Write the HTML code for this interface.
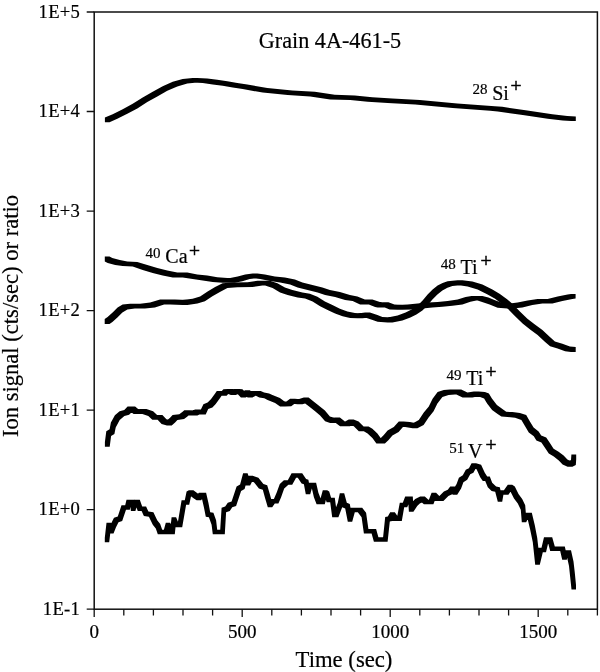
<!DOCTYPE html>
<html lang="en">
<head>
<meta charset="utf-8">
<title>Grain 4A-461-5</title>
<style>
html,body{margin:0;padding:0;background:#fff;}
body{width:600px;height:672px;overflow:hidden;}
svg{display:block;}
svg text{font-family:"Liberation Serif","Times New Roman",serif;fill:#000;stroke:#000;stroke-width:0.2px;}
</style>
</head>
<body>
<svg width="600" height="672" viewBox="0 0 600 672">
<rect width="600" height="672" fill="#fff"/>
<rect x="94.2" y="12.0" width="503.2" height="597.2" fill="none" stroke="#111" stroke-width="1.5"/>
<path d="M86.7,12.0 H94.2 M86.7,111.5 H94.2 M86.7,211.1 H94.2 M86.7,310.6 H94.2 M86.7,410.1 H94.2 M86.7,509.7 H94.2 M86.7,609.2 H94.2 M94.2,609.2 V617.0 M123.8,609.2 V615.5 M153.4,609.2 V615.5 M183.0,609.2 V615.5 M212.6,609.2 V615.5 M242.2,609.2 V617.0 M271.8,609.2 V615.5 M301.4,609.2 V615.5 M331.0,609.2 V615.5 M360.6,609.2 V615.5 M390.2,609.2 V617.0 M419.8,609.2 V615.5 M449.4,609.2 V615.5 M479.0,609.2 V615.5 M508.6,609.2 V615.5 M538.2,609.2 V617.0 M567.8,609.2 V615.5 M597.4,609.2 V615.5" fill="none" stroke="#111" stroke-width="1.3"/>
<text x="80.2" y="17.5" text-anchor="end" font-size="18.6" letter-spacing="0.3">1E+5</text>
<text x="80.2" y="117.0" text-anchor="end" font-size="18.6" letter-spacing="0.3">1E+4</text>
<text x="80.2" y="216.6" text-anchor="end" font-size="18.6" letter-spacing="0.3">1E+3</text>
<text x="80.2" y="316.1" text-anchor="end" font-size="18.6" letter-spacing="0.3">1E+2</text>
<text x="80.2" y="415.6" text-anchor="end" font-size="18.6" letter-spacing="0.3">1E+1</text>
<text x="80.2" y="515.2" text-anchor="end" font-size="18.6" letter-spacing="0.3">1E+0</text>
<text x="80.2" y="614.7" text-anchor="end" font-size="18.6" letter-spacing="0.3">1E-1</text>
<text x="94.2" y="637.9" text-anchor="middle" font-size="19">0</text>
<text x="242.2" y="637.9" text-anchor="middle" font-size="19">500</text>
<text x="390.2" y="637.9" text-anchor="middle" font-size="19">1000</text>
<text x="538.2" y="637.9" text-anchor="middle" font-size="19">1500</text>
<text x="344.0" y="666.6" text-anchor="middle" font-size="22.7">Time (sec)</text>
<text transform="translate(18.4,316.0) rotate(-90)" text-anchor="middle" font-size="22.6">Ion signal (cts/sec) or ratio</text>
<text x="258.8" y="48.3" font-size="22.2">Grain 4A-461-5</text>
<text x="472.6" y="94.1" font-size="15">28</text>
<text x="492.2" y="99.6" font-size="20">Si</text>
<text x="510.5" y="92.4" font-size="19.5" style="stroke-width:0.5px">+</text>
<text x="145.6" y="257.7" font-size="15">40</text>
<text x="165.3" y="263.2" font-size="20">Ca</text>
<text x="188.9" y="256.6" font-size="19.5" style="stroke-width:0.5px">+</text>
<text x="440.8" y="268.5" font-size="15">48</text>
<text x="460.6" y="274.0" font-size="20">Ti</text>
<text x="480.5" y="266.8" font-size="19.5" style="stroke-width:0.5px">+</text>
<text x="446.6" y="379.7" font-size="15">49</text>
<text x="466.2" y="385.2" font-size="20">Ti</text>
<text x="485.5" y="378.4" font-size="19.5" style="stroke-width:0.5px">+</text>
<text x="449.3" y="453.0" font-size="15">51</text>
<text x="468.0" y="457.7" font-size="20">V</text>
<text x="485.5" y="451.0" font-size="19.5" style="stroke-width:0.5px">+</text>
<path d="M104.9,117.6 112.7,114.2 117.3,114.2 117.3,118.8 109.5,122.2 104.9,122.2ZM112.7,114.2 122.7,109.2 127.3,109.2 127.3,113.8 117.3,118.8 112.7,118.8ZM122.7,109.2 132.7,103.8 137.3,103.8 137.3,108.4 127.3,113.8 122.7,113.8ZM132.7,103.8 142.7,97.5 147.3,97.5 147.3,102.1 137.3,108.4 132.7,108.4ZM142.7,97.5 152.7,91.8 157.3,91.8 157.3,96.4 147.3,102.1 142.7,102.1ZM152.7,91.8 162.7,86.2 167.3,86.2 167.3,90.8 157.3,96.4 152.7,96.4ZM162.7,86.2 172.7,81.8 177.3,81.8 177.3,86.4 167.3,90.8 162.7,90.8ZM172.7,81.8 182.7,79 187.3,79 187.3,83.6 177.3,86.4 172.7,86.4ZM182.7,79 192.7,78 197.3,78 197.3,82.6 187.3,83.6 182.7,83.6ZM192.7,78 197.3,78 207.3,78.5 207.3,83.1 202.7,83.1 192.7,82.6ZM202.7,78.5 207.3,78.5 217.3,79.8 217.3,84.4 212.7,84.4 202.7,83.1ZM212.7,79.8 217.3,79.8 227.3,81.2 227.3,85.8 222.7,85.8 212.7,84.4ZM222.7,81.2 227.3,81.2 237.3,83 237.3,87.6 232.7,87.6 222.7,85.8ZM232.7,83 237.3,83 247.3,84.5 247.3,89.1 242.7,89.1 232.7,87.6ZM242.7,84.5 247.3,84.5 267.3,88 267.3,92.6 262.7,92.6 242.7,89.1ZM262.7,88 267.3,88 292.3,90.5 292.3,95.1 287.7,95.1 262.7,92.6ZM287.7,90.5 292.3,90.5 314.8,91.8 314.8,96.4 310.2,96.4 287.7,95.1ZM310.2,91.8 314.8,91.8 334.8,94.8 334.8,99.4 330.2,99.4 310.2,96.4ZM330.2,94.8 334.8,94.8 354.8,95.5 354.8,100.1 350.2,100.1 330.2,99.4ZM350.2,95.5 354.8,95.5 372.3,97.2 372.3,101.8 367.7,101.8 350.2,100.1ZM367.7,97.2 372.3,97.2 392.3,98.5 392.3,103.1 387.7,103.1 367.7,101.8ZM387.7,98.5 392.3,98.5 419.8,100 419.8,104.6 415.2,104.6 387.7,103.1ZM415.2,100 419.8,100 457.3,103.5 457.3,108.1 452.7,108.1 415.2,104.6ZM452.7,103.5 457.3,103.5 494.8,106.2 494.8,110.8 490.2,110.8 452.7,108.1ZM490.2,106.2 494.8,106.2 502.3,106.8 502.3,111.4 497.7,111.4 490.2,110.8ZM497.7,106.8 502.3,106.8 527.3,110.5 527.3,115.1 522.7,115.1 497.7,111.4ZM522.7,110.5 527.3,110.5 552.3,114.2 552.3,118.8 547.7,118.8 522.7,115.1ZM547.7,114.2 552.3,114.2 567.3,116 567.3,120.6 562.7,120.6 547.7,118.8ZM562.7,116 567.3,116 575.8,116.4 575.8,121 571.2,121 562.7,120.6Z" fill="#000" fill-rule="nonzero"/>
<path d="M104.8,256.6 109.5,256.6 112.3,258.1 112.3,262.9 107.7,262.9 104.8,261.4ZM107.7,258.1 112.3,258.1 119.8,260.1 119.8,264.9 115.2,264.9 107.7,262.9ZM115.2,260.1 119.8,260.1 127.3,261.4 127.3,266.1 122.7,266.1 115.2,264.9ZM122.7,261.4 127.3,261.4 137.3,261.9 137.3,266.6 132.7,266.6 122.7,266.1ZM132.7,261.9 137.3,261.9 147.3,265.1 147.3,269.9 142.7,269.9 132.7,266.6ZM142.7,265.1 147.3,265.1 157.3,268.1 157.3,272.9 152.7,272.9 142.7,269.9ZM152.7,268.1 157.3,268.1 167.3,270.6 167.3,275.4 162.7,275.4 152.7,272.9ZM162.7,270.6 167.3,270.6 177.3,272.6 177.3,277.4 172.7,277.4 162.7,275.4ZM172.7,272.6 187.3,272.6 187.3,277.4 172.7,277.4ZM182.7,272.6 187.3,272.6 197.3,274.4 197.3,279.1 192.7,279.1 182.7,277.4ZM192.7,274.4 197.3,274.4 207.3,275.6 207.3,280.4 202.7,280.4 192.7,279.1ZM202.7,275.6 207.3,275.6 217.3,277.2 217.3,281.9 212.7,281.9 202.7,280.4ZM212.7,277.2 217.3,277.2 227.3,278.1 227.3,282.8 222.7,282.8 212.7,281.9ZM222.7,278.1 234.8,278.1 234.8,282.8 222.7,282.8ZM230.2,278.1 237.7,276.6 242.3,276.6 242.3,281.2 234.8,282.8 230.2,282.8ZM237.7,276.6 245.2,274.4 249.8,274.4 249.8,279.1 242.3,281.2 237.7,281.2ZM245.2,274.4 252.7,273.4 257.4,273.4 257.4,278.1 249.8,279.1 245.2,279.1ZM252.7,273.4 257.4,273.4 264.9,274.4 264.9,279.1 260.1,279.1 252.7,278.1ZM260.1,274.4 264.9,274.4 274.9,276.4 274.9,281.1 270.1,281.1 260.1,279.1ZM270.1,276.4 274.9,276.4 284.9,277.6 284.9,282.4 280.1,282.4 270.1,281.1ZM280.1,277.6 284.9,277.6 294.9,279.6 294.9,284.4 290.1,284.4 280.1,282.4ZM290.1,279.6 294.9,279.6 302.4,282.6 302.4,287.4 297.6,287.4 290.1,284.4ZM297.6,282.6 302.4,282.6 312.4,285.1 312.4,289.9 307.6,289.9 297.6,287.4ZM307.6,285.1 312.4,285.1 322.4,287.6 322.4,292.4 317.6,292.4 307.6,289.9ZM317.6,287.6 322.4,287.6 329.9,290.1 329.9,294.9 325.1,294.9 317.6,292.4ZM325.1,290.1 329.9,290.1 339.9,292.1 339.9,296.9 335.1,296.9 325.1,294.9ZM335.1,292.1 339.9,292.1 349.9,295.1 349.9,299.9 345.1,299.9 335.1,296.9ZM345.1,295.1 349.9,295.1 357.4,296.4 357.4,301.1 352.6,301.1 345.1,299.9ZM352.6,296.4 357.4,296.4 364.9,299.6 364.9,304.4 360.1,304.4 352.6,301.1ZM360.1,299.6 367.6,299.4 372.4,299.4 372.4,304.1 364.9,304.4 360.1,304.4ZM367.6,299.4 372.4,299.4 379.9,302.1 379.9,306.9 375.1,306.9 367.6,304.1ZM375.1,302.1 379.9,302.1 382.4,302.6 382.4,307.4 377.6,307.4 375.1,306.9ZM377.6,302.6 383.6,302.2 388.4,302.2 388.4,306.9 382.4,307.4 377.6,307.4ZM383.6,302.2 388.4,302.2 394.4,304.6 394.4,309.4 389.6,309.4 383.6,306.9ZM389.6,304.6 394.4,304.6 402.4,305.1 402.4,309.8 397.6,309.8 389.6,309.4ZM397.6,305.1 407.6,304.6 412.4,304.6 412.4,309.4 402.4,309.8 397.6,309.8ZM407.6,304.6 417.6,303.6 422.4,303.6 422.4,308.4 412.4,309.4 407.6,309.4ZM417.6,303.6 427.6,302.6 432.4,302.6 432.4,307.4 422.4,308.4 417.6,308.4ZM427.6,302.6 437.6,302.1 442.4,302.1 442.4,306.8 432.4,307.4 427.6,307.4ZM437.6,302.1 447.6,301.1 452.4,301.1 452.4,305.8 442.4,306.8 437.6,306.8ZM447.6,301.1 457.6,299.6 462.4,299.6 462.4,304.4 452.4,305.8 447.6,305.8ZM457.6,299.6 465.6,297.1 470.4,297.1 470.4,301.8 462.4,304.4 457.6,304.4ZM465.6,297.1 471.6,295.9 476.4,295.9 476.4,300.6 470.4,301.8 465.6,301.8ZM471.6,295.9 482.4,295.9 482.4,300.6 471.6,300.6ZM477.6,295.9 482.4,295.9 488.4,297.6 488.4,302.4 483.6,302.4 477.6,300.6ZM483.6,297.6 488.4,297.6 494.4,299.9 494.4,304.6 489.6,304.6 483.6,302.4ZM489.6,299.9 494.4,299.9 502.4,303.1 502.4,307.8 497.6,307.8 489.6,304.6ZM497.6,303.1 502.4,303.1 512.4,303.9 512.4,308.6 507.6,308.6 497.6,307.8ZM507.6,303.9 517.6,302.6 522.4,302.6 522.4,307.4 512.4,308.6 507.6,308.6ZM517.6,302.6 527.6,300.4 532.4,300.4 532.4,305.1 522.4,307.4 517.6,307.4ZM527.6,300.4 537.6,298.9 542.4,298.9 542.4,303.6 532.4,305.1 527.6,305.1ZM537.6,298.9 552.4,298.9 552.4,303.6 537.6,303.6ZM547.6,298.9 557.6,296.4 562.4,296.4 562.4,301.1 552.4,303.6 547.6,303.6ZM557.6,296.4 567.6,294.4 572.4,294.4 572.4,299.1 562.4,301.1 557.6,301.1ZM567.6,294.4 571,293.9 575.6,293.9 575.6,298.6 572.4,299.1 567.6,299.1Z" fill="#000" fill-rule="nonzero"/>
<path d="M104.7,319.1 107.6,317.1 112.4,317.1 112.4,321.9 109.5,323.9 104.7,323.9ZM107.6,317.1 112.6,312.6 117.4,312.6 117.4,317.4 112.4,321.9 107.6,321.9ZM112.6,312.6 117.6,307.6 122.4,307.6 122.4,312.4 117.4,317.4 112.6,317.4ZM117.6,307.6 122.6,304.6 127.4,304.6 127.4,309.4 122.4,312.4 117.6,312.4ZM122.6,304.6 130.1,303.8 134.9,303.8 134.9,308.6 127.4,309.4 122.6,309.4ZM130.1,303.8 144.9,303.8 144.9,308.6 130.1,308.6ZM140.1,303.8 150.1,302.6 154.9,302.6 154.9,307.4 144.9,308.6 140.1,308.6ZM150.1,302.6 160.1,299.4 164.9,299.4 164.9,304.2 154.9,307.4 150.1,307.4ZM160.1,299.4 164.9,299.4 174.9,299.6 174.9,304.4 170.1,304.4 160.1,304.2ZM170.1,299.6 174.9,299.6 187.4,300.1 187.4,304.9 182.6,304.9 170.1,304.4ZM182.6,300.1 192.6,298.8 197.4,298.8 197.4,303.6 187.4,304.9 182.6,304.9ZM192.6,298.8 200.1,296.4 204.9,296.4 204.9,301.2 197.4,303.6 192.6,303.6ZM200.1,296.4 207.6,291.4 212.4,291.4 212.4,296.2 204.9,301.2 200.1,301.2ZM207.6,291.4 215.1,287.1 219.9,287.1 219.9,291.9 212.4,296.2 207.6,296.2ZM215.1,287.1 222.6,283.2 227.4,283.2 227.4,288 219.9,291.9 215.1,291.9ZM222.6,283.2 232.6,282.5 237.4,282.5 237.4,287.3 227.4,288 222.6,288ZM232.6,282.5 247.6,282.3 252.4,282.3 252.4,287.1 237.4,287.3 232.6,287.3ZM247.6,282.3 257.6,280.8 262.4,280.8 262.4,285.6 252.4,287.1 247.6,287.1ZM257.6,280.8 269.9,280.8 269.9,285.6 257.6,285.6ZM265.1,280.8 269.9,280.8 277.4,283.2 277.4,288 272.6,288 265.1,285.6ZM272.6,283.2 277.4,283.2 284.9,287.6 284.9,292.4 280.1,292.4 272.6,288ZM280.1,287.6 284.9,287.6 292.4,290.1 292.4,294.9 287.6,294.9 280.1,292.4ZM287.6,290.1 292.4,290.1 302.4,292.6 302.4,297.4 297.6,297.4 287.6,294.9ZM297.6,292.6 302.4,292.6 309.9,293.8 309.9,298.6 305.1,298.6 297.6,297.4ZM305.1,293.8 309.9,293.8 317.4,296.8 317.4,301.6 312.6,301.6 305.1,298.6ZM312.6,296.8 317.4,296.8 324.9,301.4 324.9,306.2 320.1,306.2 312.6,301.6ZM320.1,301.4 324.9,301.4 332.4,305.1 332.4,309.9 327.6,309.9 320.1,306.2ZM327.6,305.1 332.4,305.1 339.9,308.8 339.9,313.6 335.1,313.6 327.6,309.9ZM335.1,308.8 339.9,308.8 347.4,311.4 347.4,316.2 342.6,316.2 335.1,313.6ZM342.6,311.4 347.4,311.4 354.9,313.1 354.9,317.9 350.1,317.9 342.6,316.2ZM350.1,313.1 354.9,313.1 362.4,313.4 362.4,318.2 357.6,318.2 350.1,317.9ZM357.6,313.4 365.1,312.6 369.9,312.6 369.9,317.4 362.4,318.2 357.6,318.2ZM365.1,312.6 369.9,312.6 377.4,315.1 377.4,319.9 372.6,319.9 365.1,317.4ZM372.6,315.1 377.4,315.1 382.4,317 382.4,321.8 377.6,321.8 372.6,319.9ZM377.6,317 382.4,317 392.4,317.6 392.4,322.4 387.6,322.4 377.6,321.8ZM387.6,317.6 397.6,315.6 402.4,315.6 402.4,320.4 392.4,322.4 387.6,322.4ZM397.6,315.6 405.6,312.6 410.4,312.6 410.4,317.4 402.4,320.4 397.6,320.4ZM405.6,312.6 411.6,309.6 416.4,309.6 416.4,314.4 410.4,317.4 405.6,317.4ZM411.6,309.6 417.6,305.6 422.4,305.6 422.4,310.4 416.4,314.4 411.6,314.4ZM417.6,305.6 422.6,300.6 427.4,300.6 427.4,305.4 422.4,310.4 417.6,310.4ZM422.6,300.6 427.6,294.6 432.4,294.6 432.4,299.4 427.4,305.4 422.6,305.4ZM427.6,294.6 432.6,289.6 437.4,289.6 437.4,294.4 432.4,299.4 427.6,299.4ZM432.6,289.6 437.6,285.6 442.4,285.6 442.4,290.4 437.4,294.4 432.6,294.4ZM437.6,285.6 442.6,283 447.4,283 447.4,287.8 442.4,290.4 437.6,290.4ZM442.6,283 447.6,281.2 452.4,281.2 452.4,286 447.4,287.8 442.6,287.8ZM447.6,281.2 457.6,280.2 462.4,280.2 462.4,285 452.4,286 447.6,286ZM457.6,280.2 462.4,280.2 472.4,281.6 472.4,286.4 467.6,286.4 457.6,285ZM467.6,281.6 472.4,281.6 482.4,284.6 482.4,289.4 477.6,289.4 467.6,286.4ZM477.6,284.6 482.4,284.6 492.4,289.6 492.4,294.4 487.6,294.4 477.6,289.4ZM487.6,289.6 492.4,289.6 499.9,293.9 499.9,298.7 495.1,298.7 487.6,294.4ZM495.1,293.9 499.9,293.9 507.4,299.6 507.4,304.4 502.6,304.4 495.1,298.7ZM502.6,299.6 507.4,299.6 512.4,303.8 512.4,308.6 507.6,308.6 502.6,304.4ZM507.6,303.8 512.4,303.8 519.9,311.4 519.9,316.2 515.1,316.2 507.6,308.6ZM515.1,311.4 519.9,311.4 527.4,318.8 527.4,323.6 522.6,323.6 515.1,316.2ZM522.6,318.8 527.4,318.8 534.9,324.6 534.9,329.4 530.1,329.4 522.6,323.6ZM530.1,324.6 534.9,324.6 542.4,330.1 542.4,334.9 537.6,334.9 530.1,329.4ZM537.6,330.1 542.4,330.1 549.9,337.1 549.9,341.9 545.1,341.9 537.6,334.9ZM545.1,337.1 549.9,337.1 554.9,341.4 554.9,346.2 550.1,346.2 545.1,341.9ZM550.1,341.4 554.9,341.4 562.4,343.8 562.4,348.6 557.6,348.6 550.1,346.2ZM557.6,343.8 562.4,343.8 569.9,346.4 569.9,351.2 565.1,351.2 557.6,348.6ZM565.1,346.4 569.9,346.4 575.7,347.1 575.7,351.9 570.9,351.9 565.1,351.2Z" fill="#000" fill-rule="nonzero"/>
<path d="M104.9,441.9 106.3,431.3 111.1,431.3 111.1,436.1 109.7,446.7 104.9,446.7ZM106.3,431.3 109.6,429.3 114.4,429.3 114.4,434.1 111.1,436.1 106.3,436.1ZM109.6,429.3 110.9,422.6 115.7,422.6 115.7,427.4 114.4,434.1 109.6,434.1ZM110.9,422.6 114.9,415.3 119.7,415.3 119.7,420.1 115.7,427.4 110.9,427.4ZM114.9,415.3 119.6,411.3 124.4,411.3 124.4,416.1 119.7,420.1 114.9,420.1ZM119.6,411.3 124.3,409.9 129.1,409.9 129.1,414.7 124.4,416.1 119.6,416.1ZM124.3,409.9 127.6,406.6 132.4,406.6 132.4,411.4 129.1,414.7 124.3,414.7ZM127.6,406.6 135.1,406.6 135.1,411.4 127.6,411.4ZM130.3,406.6 135.1,406.6 138.4,409.3 138.4,414.1 133.6,414.1 130.3,411.4ZM133.6,409.3 141.6,408.9 146.4,408.9 146.4,413.7 138.4,414.1 133.6,414.1ZM141.6,408.9 146.4,408.9 153.1,411.3 153.1,416.1 148.3,416.1 141.6,413.7ZM148.3,411.3 153.1,411.3 157.1,415 157.1,419.8 152.3,419.8 148.3,416.1ZM152.3,415 162.4,415 162.4,419.8 152.3,419.8ZM157.6,415 162.4,415 166.4,419.3 166.4,424.1 161.6,424.1 157.6,419.8ZM161.6,419.3 166.4,419.3 171.7,420.6 171.7,425.4 166.9,425.4 161.6,424.1ZM166.9,420.6 170.3,417.6 175.1,417.6 175.1,422.4 171.7,425.4 166.9,425.4ZM170.3,417.6 172.6,415.1 177.4,415.1 177.4,419.9 175.1,422.4 170.3,422.4ZM172.6,415.1 179.3,414.3 184.1,414.3 184.1,419.1 177.4,419.9 172.6,419.9ZM179.3,414.3 182.6,411.8 187.4,411.8 187.4,416.6 184.1,419.1 179.3,419.1ZM182.6,411.8 184.3,410.2 189.1,410.2 189.1,415 187.4,416.6 182.6,416.6ZM184.3,410.2 189.1,410.2 197.4,410.6 197.4,415.4 192.6,415.4 184.3,415ZM192.6,410.6 195.1,409.4 199.9,409.4 199.9,414.2 197.4,415.4 192.6,415.4ZM195.1,409.4 199.9,409.4 205.7,409.6 205.7,414.4 200.9,414.4 195.1,414.2ZM200.9,409.6 203.4,404.3 208.2,404.3 208.2,409.1 205.7,414.4 200.9,414.4ZM203.4,404.3 207.6,402.6 212.4,402.6 212.4,407.4 208.2,409.1 203.4,409.1ZM207.6,402.6 210.9,399.3 215.7,399.3 215.7,404.1 212.4,407.4 207.6,407.4ZM210.9,399.3 215.1,393.4 219.9,393.4 219.9,398.2 215.7,404.1 210.9,404.1ZM215.1,393.4 216.8,391 221.6,391 221.6,395.8 219.9,398.2 215.1,398.2ZM216.8,391 226.6,391 226.6,395.8 216.8,395.8ZM221.8,391 223.4,389.3 228.2,389.3 228.2,394.1 226.6,395.8 221.8,395.8ZM223.4,389.3 227.6,388.9 232.4,388.9 232.4,393.7 228.2,394.1 223.4,394.1ZM227.6,388.9 232.4,388.9 235.7,390.1 235.7,394.9 230.9,394.9 227.6,393.7ZM230.9,390.1 234.3,388.9 239.1,388.9 239.1,393.7 235.7,394.9 230.9,394.9ZM234.3,388.9 239.1,388.9 242.4,389.3 242.4,394.1 237.6,394.1 234.3,393.7ZM237.6,389.3 242.4,389.3 245.7,392.6 245.7,397.4 240.9,397.4 237.6,394.1ZM240.9,392.6 245.1,390.2 249.9,390.2 249.9,395 245.7,397.4 240.9,397.4ZM245.1,390.2 249.9,390.2 252.4,392.6 252.4,397.4 247.6,397.4 245.1,395ZM247.6,392.6 250.9,390.9 255.7,390.9 255.7,395.7 252.4,397.4 247.6,397.4ZM250.9,390.9 260.7,390.9 260.7,395.7 250.9,395.7ZM255.9,390.9 260.7,390.9 264.1,392.6 264.1,397.4 259.3,397.4 255.9,395.7ZM259.3,392.6 264.1,392.6 269.1,393.4 269.1,398.2 264.3,398.2 259.3,397.4ZM264.3,393.4 269.1,393.4 272.4,395.1 272.4,399.9 267.6,399.9 264.3,398.2ZM267.6,395.1 272.4,395.1 279.9,398.1 279.9,402.9 275.1,402.9 267.6,399.9ZM275.1,398.1 279.9,398.1 284.9,401.8 284.9,406.6 280.1,406.6 275.1,402.9ZM280.1,401.8 286.4,401.4 291.2,401.4 291.2,406.2 284.9,406.6 280.1,406.6ZM286.4,401.4 290.1,398.8 294.9,398.8 294.9,403.6 291.2,406.2 286.4,406.2ZM290.1,398.8 294.9,398.8 302.4,399.4 302.4,404.2 297.6,404.2 290.1,403.6ZM297.6,399.4 303.8,397.6 308.6,397.6 308.6,402.4 302.4,404.2 297.6,404.2ZM303.8,397.6 308.6,397.6 313.6,401.4 313.6,406.2 308.8,406.2 303.8,402.4ZM308.8,401.4 313.6,401.4 319.9,406.4 319.9,411.2 315.1,411.2 308.8,406.2ZM315.1,406.4 319.9,406.4 324.9,410.6 324.9,415.4 320.1,415.4 315.1,411.2ZM320.1,410.6 324.9,410.6 329.9,416.4 329.9,421.2 325.1,421.2 320.1,415.4ZM325.1,416.4 329.9,416.4 334.9,418.1 334.9,422.9 330.1,422.9 325.1,421.2ZM330.1,418.1 335.1,417.6 339.9,417.6 339.9,422.4 334.9,422.9 330.1,422.9ZM335.1,417.6 339.9,417.6 344.9,421.4 344.9,426.2 340.1,426.2 335.1,422.4ZM340.1,421.4 349.9,421.4 349.9,426.2 340.1,426.2ZM345.1,421.4 348.8,419.4 353.6,419.4 353.6,424.2 349.9,426.2 345.1,426.2ZM348.8,419.4 353.6,419.4 358.6,421.4 358.6,426.2 353.8,426.2 348.8,424.2ZM353.8,421.4 358.6,421.4 363.6,426.4 363.6,431.2 358.8,431.2 353.8,426.2ZM358.8,426.4 368.6,426.4 368.6,431.2 358.8,431.2ZM363.8,426.4 368.6,426.4 372.4,428.8 372.4,433.6 367.6,433.6 363.8,431.2ZM367.6,428.8 372.4,428.8 377.4,433.4 377.4,438.2 372.6,438.2 367.6,433.6ZM372.6,433.4 377.4,433.4 381.2,438.8 381.2,443.6 376.4,443.6 372.6,438.2ZM376.4,438.8 384.9,438.8 384.9,443.6 376.4,443.6ZM380.1,438.8 383.8,435.1 388.6,435.1 388.6,439.9 384.9,443.6 380.1,443.6ZM383.8,435.1 387.6,430.6 392.4,430.6 392.4,435.4 388.6,439.9 383.8,439.9ZM387.6,430.6 393.8,427.1 398.6,427.1 398.6,431.9 392.4,435.4 387.6,435.4ZM393.8,427.1 398.8,421.4 403.6,421.4 403.6,426.2 398.6,431.9 393.8,431.9ZM398.8,421.4 403.6,421.4 409.9,422.1 409.9,426.9 405.1,426.9 398.8,426.2ZM405.1,422.1 409.9,422.1 417.4,423.4 417.4,428.2 412.6,428.2 405.1,426.9ZM412.6,423.4 418.8,420.1 423.6,420.1 423.6,424.9 417.4,428.2 412.6,428.2ZM418.8,420.1 423.8,412.6 428.6,412.6 428.6,417.4 423.6,424.9 418.8,424.9ZM423.8,412.6 428.8,406.4 433.6,406.4 433.6,411.2 428.6,417.4 423.8,417.4ZM428.8,406.4 432.6,398.8 437.4,398.8 437.4,403.6 433.6,411.2 428.8,411.2ZM432.6,398.8 437.6,392.1 442.4,392.1 442.4,396.9 437.4,403.6 432.6,403.6ZM437.6,392.1 443.8,390.1 448.6,390.1 448.6,394.9 442.4,396.9 437.6,396.9ZM443.8,390.1 450.1,389.6 454.9,389.6 454.9,394.4 448.6,394.9 443.8,394.9ZM450.1,389.6 461.2,389.6 461.2,394.4 450.1,394.4ZM456.4,389.6 461.2,389.6 467.4,392.6 467.4,397.4 462.6,397.4 456.4,394.4ZM462.6,392.6 472.4,392.6 472.4,397.4 462.6,397.4ZM467.6,392.6 473.8,391.4 478.6,391.4 478.6,396.2 472.4,397.4 467.6,397.4ZM473.8,391.4 478.6,391.4 484.9,392.1 484.9,396.9 480.1,396.9 473.8,396.2ZM480.1,392.1 484.9,392.1 488.9,393.6 488.9,398.4 484.1,398.4 480.1,396.9ZM484.1,393.6 488.9,393.6 491.9,398.6 491.9,403.4 487.1,403.4 484.1,398.4ZM487.1,398.6 491.9,398.6 496.9,405.1 496.9,409.9 492.1,409.9 487.1,403.4ZM492.1,405.1 496.9,405.1 502.4,409.1 502.4,413.9 497.6,413.9 492.1,409.9ZM497.6,409.1 502.4,409.1 506.2,411.8 506.2,416.6 501.4,416.6 497.6,413.9ZM501.4,411.8 506.2,411.8 512.4,412.1 512.4,416.9 507.6,416.9 501.4,416.6ZM507.6,412.1 512.4,412.1 519.9,412.9 519.9,417.7 515.1,417.7 507.6,416.9ZM515.1,412.9 519.9,412.9 526.2,415.1 526.2,419.9 521.4,419.9 515.1,417.7ZM521.4,415.1 526.2,415.1 529.9,421.4 529.9,426.2 525.1,426.2 521.4,419.9ZM525.1,421.4 529.9,421.4 533.6,427.6 533.6,432.4 528.8,432.4 525.1,426.2ZM528.8,427.6 533.6,427.6 538.6,431.4 538.6,436.2 533.8,436.2 528.8,432.4ZM533.8,431.4 538.6,431.4 541.2,435.6 541.2,440.4 536.4,440.4 533.8,436.2ZM536.4,435.6 541.2,435.6 546.2,437.6 546.2,442.4 541.4,442.4 536.4,440.4ZM541.4,437.6 546.2,437.6 549.9,443.1 549.9,447.9 545.1,447.9 541.4,442.4ZM545.1,443.1 549.9,443.1 553.6,448.8 553.6,453.6 548.8,453.6 545.1,447.9ZM548.8,448.8 553.6,448.8 558.6,451.8 558.6,456.6 553.8,456.6 548.8,453.6ZM553.8,451.8 558.6,451.8 563.6,455.6 563.6,460.4 558.8,460.4 553.8,456.6ZM558.8,455.6 563.6,455.6 567.4,459.6 567.4,464.4 562.6,464.4 558.8,460.4ZM562.6,459.6 567.4,459.6 572.4,461.9 572.4,466.7 567.6,466.7 562.6,464.4ZM567.6,461.9 571,460.1 575.8,460.1 575.8,464.9 572.4,466.7 567.6,466.7ZM571,460.1 571.4,454.6 576.2,454.6 576.2,459.4 575.8,464.9 571,464.9Z" fill="#000" fill-rule="nonzero"/>
<path d="M104.8,537.8 106.5,522.8 111,522.8 111,527.2 109.2,542.2 104.8,542.2ZM106.5,522.8 111,522.8 113.5,529 113.5,533.5 109,533.5 106.5,527.2ZM109,529 111.5,522.8 116,522.8 116,527.2 113.5,533.5 109,533.5ZM111.5,522.8 114,517.8 118.5,517.8 118.5,522.2 116,527.2 111.5,527.2ZM114,517.8 117.8,516.5 122.2,516.5 122.2,521 118.5,522.2 114,522.2ZM117.8,516.5 121.5,505.2 126,505.2 126,509.8 122.2,521 117.8,521ZM121.5,505.2 129.8,505.2 129.8,509.8 121.5,509.8ZM125.2,505.2 126.5,499.8 131.1,499.8 131.1,504.2 129.8,509.8 125.2,509.8ZM126.5,499.8 134.8,499.8 134.8,504.2 126.5,504.2ZM130.2,499.8 134.8,499.8 135.4,506.6 135.4,511.1 130.9,511.1 130.2,504.2ZM130.9,506.6 132.8,500.2 137.2,500.2 137.2,504.8 135.4,511.1 130.9,511.1ZM132.8,500.2 135.2,499.8 139.8,499.8 139.8,504.2 137.2,504.8 132.8,504.8ZM135.2,499.8 139.8,499.8 142.2,506.6 142.2,511.1 137.8,511.1 135.2,504.2ZM137.8,506.6 146.1,506.6 146.1,511.1 137.8,511.1ZM141.6,506.6 146.1,506.6 148.4,511.6 148.4,516 143.9,516 141.6,511.1ZM143.9,511.6 148.4,511.6 153.4,512.2 153.4,516.8 148.9,516.8 143.9,516ZM148.9,512.2 153.4,512.2 157.2,520.2 157.2,524.8 152.8,524.8 148.9,516.8ZM152.8,520.2 157.2,520.2 160.2,524 160.2,528.5 155.8,528.5 152.8,524.8ZM155.8,524 160.2,524 162.2,529.8 162.2,534.2 157.8,534.2 155.8,528.5ZM157.8,529.8 168.4,529.8 168.4,534.2 157.8,534.2ZM163.9,529.8 165.8,522.8 170.2,522.8 170.2,527.2 168.4,534.2 163.9,534.2ZM165.8,522.8 170.2,522.8 172.8,529.8 172.8,534.2 168.2,534.2 165.8,527.2ZM168.2,529.8 174.8,529.8 174.8,534.2 168.2,534.2ZM170.2,529.8 171.6,517.2 176.1,517.2 176.1,521.8 174.8,534.2 170.2,534.2ZM171.6,517.2 176.1,517.2 178.4,522.8 178.4,527.2 173.9,527.2 171.6,521.8ZM173.9,522.8 182.2,522.8 182.2,527.2 173.9,527.2ZM177.8,522.8 181.6,500.2 186.1,500.2 186.1,504.8 182.2,527.2 177.8,527.2ZM181.6,500.2 189.2,500.2 189.2,504.8 181.6,504.8ZM184.8,500.2 186.6,491.6 191.1,491.6 191.1,496.1 189.2,504.8 184.8,504.8ZM186.6,491.6 188.9,490.2 193.4,490.2 193.4,494.8 191.1,496.1 186.6,496.1ZM188.9,490.2 193.4,490.2 198.4,493.9 198.4,498.4 193.9,498.4 188.9,494.8ZM193.9,493.9 198.4,493.9 201.1,495.8 201.1,500.2 196.6,500.2 193.9,498.4ZM196.6,495.8 198.9,492.8 203.4,492.8 203.4,497.2 201.1,500.2 196.6,500.2ZM198.9,492.8 206.1,492.8 206.1,497.2 198.9,497.2ZM201.6,492.8 206.1,492.8 208.4,502.8 208.4,507.2 203.9,507.2 201.6,497.2ZM203.9,502.8 208.4,502.8 210.2,512.2 210.2,516.8 205.8,516.8 203.9,507.2ZM205.8,512.2 210.2,512.2 213.4,512.8 213.4,517.2 208.9,517.2 205.8,516.8ZM208.9,512.8 213.4,512.8 216.1,520.2 216.1,524.8 211.6,524.8 208.9,517.2ZM211.6,520.2 216.1,520.2 217.2,529.8 217.2,534.2 212.8,534.2 211.6,524.8ZM212.8,529.8 224.8,529.8 224.8,534.2 212.8,534.2ZM220.2,529.8 221.6,507.8 226.1,507.8 226.1,512.2 224.8,534.2 220.2,534.2ZM221.6,507.8 225.2,506.6 229.8,506.6 229.8,511.1 226.1,512.2 221.6,512.2ZM225.2,506.6 227.8,502.8 232.2,502.8 232.2,507.2 229.8,511.1 225.2,511.1ZM227.8,502.8 231.6,501.6 236.1,501.6 236.1,506.1 232.2,507.2 227.8,507.2ZM231.6,501.6 236.6,486.6 241.1,486.6 241.1,491.1 236.1,506.1 231.6,506.1ZM236.6,486.6 240.1,484.6 244.6,484.6 244.6,489.1 241.1,491.1 236.6,491.1ZM240.1,484.6 243.1,473.2 247.6,473.2 247.6,477.8 244.6,489.1 240.1,489.1ZM243.1,473.2 247.6,473.2 250.1,480.9 250.1,485.4 245.6,485.4 243.1,477.8ZM245.6,480.9 248.2,475.8 252.8,475.8 252.8,480.2 250.1,485.4 245.6,485.4ZM248.2,475.8 252.8,475.8 258.4,477.8 258.4,482.2 253.9,482.2 248.2,480.2ZM253.9,477.8 258.4,477.8 263.4,483.9 263.4,488.4 258.9,488.4 253.9,482.2ZM258.9,483.9 263.4,483.9 267.2,485.2 267.2,489.8 262.8,489.8 258.9,488.4ZM262.8,485.2 267.2,485.2 269.8,493.9 269.8,498.4 265.2,498.4 262.8,489.8ZM265.2,493.9 269.8,493.9 272.2,502.8 272.2,507.2 267.8,507.2 265.2,498.4ZM267.8,502.8 270.2,498.9 274.8,498.9 274.8,503.4 272.2,507.2 267.8,507.2ZM270.2,498.9 278.4,498.9 278.4,503.4 270.2,503.4ZM273.9,498.9 276.6,492.8 281.1,492.8 281.1,497.2 278.4,503.4 273.9,503.4ZM276.6,492.8 279.8,483.9 284.2,483.9 284.2,488.4 281.1,497.2 276.6,497.2ZM279.8,483.9 283.9,480.2 288.4,480.2 288.4,484.8 284.2,488.4 279.8,488.4ZM283.9,480.2 292.2,480.2 292.2,484.8 283.9,484.8ZM287.8,480.2 291.6,473.2 296.1,473.2 296.1,477.8 292.2,484.8 287.8,484.8ZM291.6,473.2 302.2,473.2 302.2,477.8 291.6,477.8ZM297.8,473.2 302.2,473.2 306.1,478.9 306.1,483.4 301.6,483.4 297.8,477.8ZM301.6,478.9 306.1,478.9 308.4,479.8 308.4,484.2 303.9,484.2 301.6,483.4ZM303.9,479.8 308.4,479.8 310.2,489.8 310.2,494.2 305.8,494.2 303.9,484.2ZM305.8,489.8 307.8,482.8 312.2,482.8 312.2,487.2 310.2,494.2 305.8,494.2ZM307.8,482.8 316.1,482.8 316.1,487.2 307.8,487.2ZM311.6,482.8 316.1,482.8 318.4,492.8 318.4,497.2 313.9,497.2 311.6,487.2ZM313.9,492.8 318.4,492.8 321.1,499.8 321.1,504.2 316.6,504.2 313.9,497.2ZM316.6,499.8 324.8,499.8 324.8,504.2 316.6,504.2ZM320.2,499.8 322.8,490.2 327.2,490.2 327.2,494.8 324.8,504.2 320.2,504.2ZM322.8,490.2 327.2,490.2 329.2,491.6 329.2,496.1 324.8,496.1 322.8,494.8ZM324.8,491.6 329.2,491.6 331.1,497.8 331.1,502.2 326.6,502.2 324.8,496.1ZM326.6,497.8 334.8,497.8 334.8,502.2 326.6,502.2ZM330.2,497.8 334.8,497.8 336.8,512.8 336.8,517.2 332.2,517.2 330.2,502.2ZM332.2,512.8 338.4,512.8 338.4,517.2 332.2,517.2ZM333.9,512.8 337.8,502.8 342.2,502.8 342.2,507.2 338.4,517.2 333.9,517.2ZM337.8,502.8 339.8,493.2 344.2,493.2 344.2,497.8 342.2,507.2 337.8,507.2ZM339.8,493.2 344.2,493.2 346.8,502.8 346.8,507.2 342.2,507.2 339.8,497.8ZM342.2,502.8 346.8,502.8 349.8,503.9 349.8,508.4 345.2,508.4 342.2,507.2ZM345.2,503.9 349.8,503.9 352.2,517.2 352.2,521.8 347.8,521.8 345.2,508.4ZM347.8,517.2 350.2,507.8 354.8,507.8 354.8,512.2 352.2,521.8 347.8,521.8ZM350.2,507.8 362.2,507.8 362.2,512.2 350.2,512.2ZM357.8,507.8 362.2,507.8 366.1,512.8 366.1,517.2 361.6,517.2 357.8,512.2ZM361.6,512.8 366.1,512.8 368.4,529 368.4,533.5 363.9,533.5 361.6,517.2ZM363.9,529 376.1,529 376.1,533.5 363.9,533.5ZM371.6,529 376.1,529 378.4,537.2 378.4,541.8 373.9,541.8 371.6,533.5ZM373.9,537.2 387.6,537.2 387.6,541.8 373.9,541.8ZM383.1,537.2 385.2,517 389.8,517 389.8,521.5 387.6,541.8 383.1,541.8ZM385.2,517 387.8,516.5 392.2,516.5 392.2,521 389.8,521.5 385.2,521.5ZM387.8,516.5 390.2,512.2 394.8,512.2 394.8,516.8 392.2,521 387.8,521ZM390.2,512.2 394.8,512.2 397.8,516.5 397.8,521 393.2,521 390.2,516.8ZM393.2,516.5 401.8,516.5 401.8,521 393.2,521ZM397.2,516.5 399.8,502.8 404.2,502.8 404.2,507.2 401.8,521 397.2,521ZM399.8,502.8 407.2,502.8 407.2,507.2 399.8,507.2ZM402.8,502.8 405.2,496.6 409.8,496.6 409.8,501.1 407.2,507.2 402.8,507.2ZM405.2,496.6 412.8,496.6 412.8,501.1 405.2,501.1ZM408.2,496.6 412.8,496.6 413.4,507.2 413.4,511.8 408.9,511.8 408.2,501.1ZM408.9,507.2 412.8,501.6 417.2,501.6 417.2,506.1 413.4,511.8 408.9,511.8ZM412.8,501.6 415.2,498.9 419.8,498.9 419.8,503.4 417.2,506.1 412.8,506.1ZM415.2,498.9 420.2,496.6 424.8,496.6 424.8,501.1 419.8,503.4 415.2,503.4ZM420.2,496.6 424.8,496.6 428.4,499.8 428.4,504.2 423.9,504.2 420.2,501.1ZM423.9,499.8 433.4,499.8 433.4,504.2 423.9,504.2ZM428.9,499.8 431.6,492.8 436.1,492.8 436.1,497.2 433.4,504.2 428.9,504.2ZM431.6,492.8 436.1,492.8 439.8,496.6 439.8,501.1 435.2,501.1 431.6,497.2ZM435.2,496.6 443.4,496.6 443.4,501.1 435.2,501.1ZM438.9,496.6 443.9,491.6 448.4,491.6 448.4,496.1 443.4,501.1 438.9,501.1ZM443.9,491.6 447.8,489.8 452.2,489.8 452.2,494.2 448.4,496.1 443.9,496.1ZM447.8,489.8 450.2,486.6 454.8,486.6 454.8,491.1 452.2,494.2 447.8,494.2ZM450.2,486.6 454.8,486.6 457.2,490.2 457.2,494.8 452.8,494.8 450.2,491.1ZM452.8,490.2 456.6,483.9 461.1,483.9 461.1,488.4 457.2,494.8 452.8,494.8ZM456.6,483.9 458.9,477.8 463.4,477.8 463.4,482.2 461.1,488.4 456.6,488.4ZM458.9,477.8 462.8,475.2 467.2,475.2 467.2,479.8 463.4,482.2 458.9,482.2ZM462.8,475.2 465.8,469.8 470.2,469.8 470.2,474.2 467.2,479.8 462.8,479.8ZM465.8,469.8 468.9,468.2 473.4,468.2 473.4,472.8 470.2,474.2 465.8,474.2ZM468.9,468.2 471.6,463.2 476.1,463.2 476.1,467.8 473.4,472.8 468.9,472.8ZM471.6,463.2 476.1,463.2 481.1,464.8 481.1,469.2 476.6,469.2 471.6,467.8ZM476.6,464.8 481.1,464.8 484.8,472.8 484.8,477.2 480.2,477.2 476.6,469.2ZM480.2,472.8 484.8,472.8 487.2,476.6 487.2,481.1 482.8,481.1 480.2,477.2ZM482.8,476.6 489.8,476.6 489.8,481.1 482.8,481.1ZM485.2,476.6 489.8,476.6 492.2,482.8 492.2,487.2 487.8,487.2 485.2,481.1ZM487.8,482.8 492.2,482.8 496.1,486.6 496.1,491.1 491.6,491.1 487.8,487.2ZM491.6,486.6 496.1,486.6 499.8,487.2 499.8,491.8 495.2,491.8 491.6,491.1ZM495.2,487.2 499.8,487.2 502.2,497.2 502.2,501.8 497.8,501.8 495.2,491.8ZM497.8,497.2 498.9,490.2 503.4,490.2 503.4,494.8 502.2,501.8 497.8,501.8ZM498.9,490.2 508.4,490.2 508.4,494.8 498.9,494.8ZM503.9,490.2 507.8,484.8 512.2,484.8 512.2,489.2 508.4,494.8 503.9,494.8ZM507.8,484.8 512.2,484.8 514.8,486.6 514.8,491.1 510.2,491.1 507.8,489.2ZM510.2,486.6 514.8,486.6 518.5,493.9 518.5,498.4 514,498.4 510.2,491.1ZM514,493.9 518.5,493.9 522.2,498.9 522.2,503.4 517.8,503.4 514,498.4ZM517.8,498.9 522.2,498.9 525.2,505.2 525.2,509.8 520.8,509.8 517.8,503.4ZM520.8,505.2 525.2,505.2 526.2,517.8 526.2,522.2 521.8,522.2 520.8,509.8ZM521.8,517.8 524,512.8 528.5,512.8 528.5,517.2 526.2,522.2 521.8,522.2ZM524,512.8 531.8,512.8 531.8,517.2 524,517.2ZM527.2,512.8 531.8,512.8 534.8,525.2 534.8,529.8 530.2,529.8 527.2,517.2ZM530.2,525.2 534.8,525.2 537.2,537.8 537.2,542.2 532.8,542.2 530.2,529.8ZM532.8,537.8 537.2,537.8 539.8,560.2 539.8,564.8 535.2,564.8 532.8,542.2ZM535.2,560.2 538.2,547.8 542.8,547.8 542.8,552.2 539.8,564.8 535.2,564.8ZM538.2,547.8 546,547.8 546,552.2 538.2,552.2ZM541.5,547.8 544,537.2 548.5,537.2 548.5,541.8 546,552.2 541.5,552.2ZM544,537.2 552.2,537.2 552.2,541.8 544,541.8ZM547.8,537.2 552.2,537.2 554.8,546.5 554.8,551 550.2,551 547.8,541.8ZM550.2,546.5 564.8,546.5 564.8,551 550.2,551ZM560.2,546.5 564.8,546.5 566.8,555.2 566.8,559.8 562.2,559.8 560.2,551ZM562.2,555.2 563.2,550.2 567.8,550.2 567.8,554.8 566.8,559.8 562.2,559.8ZM563.2,550.2 571,550.2 571,554.8 563.2,554.8ZM566.5,550.2 571,550.2 573.5,561.5 573.5,566 569,566 566.5,554.8ZM569,561.5 573.5,561.5 574.8,572.8 574.8,577.2 570.2,577.2 569,566ZM570.2,572.8 574.8,572.8 576,585 576,589.5 571.5,589.5 570.2,577.2Z" fill="#000" fill-rule="nonzero"/>
</svg>
</body>
</html>
